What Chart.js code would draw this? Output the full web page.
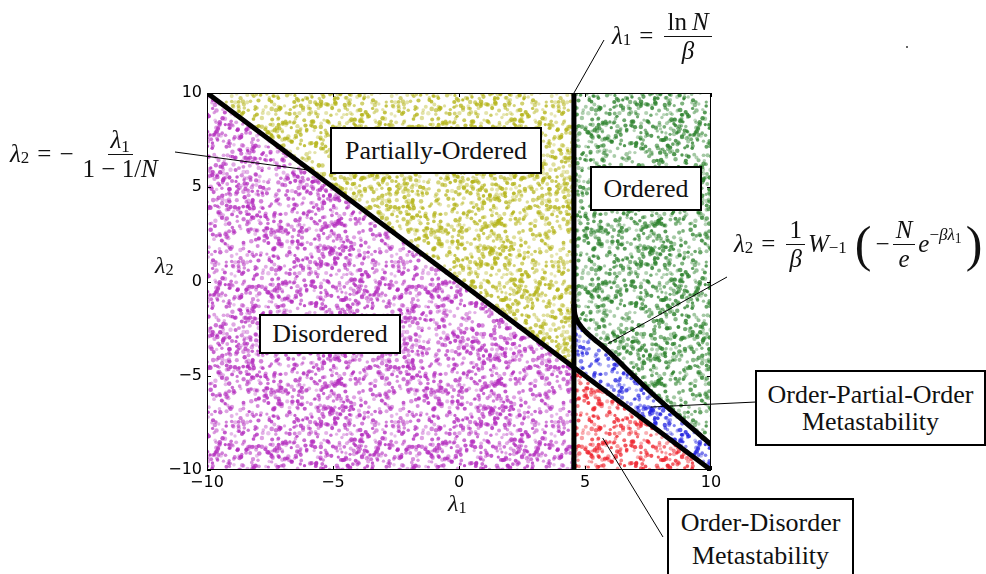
<!DOCTYPE html>
<html lang="en">
<head>
<meta charset="UTF-8">
<title>Phase diagram</title>
<script src="https://cdn.jsdelivr.net/npm/chart.js"></script>
<style>
    body { margin: 0; background: #fff; }
    #wrap { position: relative; width: 986px; height: 574px; overflow: hidden; }
    #chart { position: absolute; left: 0; top: 0; }
    .box {
        position: absolute;
        border: 2px solid #000;
        background: #fff;
        box-sizing: border-box;
        display: flex;
        align-items: center;
        justify-content: center;
        text-align: center;
        font-family: "Liberation Serif", "Times New Roman", serif;
        font-size: 26px;
        color: #111;
    }
    .math {
        position: absolute;
        display: flex;
        align-items: center;
        white-space: nowrap;
        font-family: "Liberation Serif", "DejaVu Serif", serif;
        font-size: 25px;
        color: #111;
    }
    .math sub, .math sup { font-size: 0.68em; }
    .math sub { position: relative; top: 0.25em; vertical-align: baseline; }
    .math sup { position: relative; top: -0.55em; vertical-align: baseline; }
    .frac { display: inline-flex; flex-direction: column; align-items: center; margin: 0 3px; }
    .frac .num { border-bottom: 1px solid #111; padding: 0 3px; line-height: 1.1; }
    .frac .den { line-height: 1.1; padding: 0 3px; }
    .op { margin: 0 8px; }
    .paren { font-size: 50px; line-height: 1; margin: 0 4px; font-weight: 300; }
</style>
</head>
<body>
<div id="wrap">
    <canvas id="chart" width="986" height="574"></canvas>

    <!-- axis titles -->
    <div class="math" style="left:155px; top:252px; font-size:24px;"><i>λ</i><sub>2</sub></div>
    <div class="math" style="left:448px; top:490px; font-size:24px;"><i>λ</i><sub>1</sub></div>

    <!-- region labels -->
    <div class="box" style="left:330px; top:127px; width:212px; height:47px;">Partially-Ordered</div>
    <div class="box" style="left:590px; top:166px; width:112px; height:45px;">Ordered</div>
    <div class="box" style="left:259px; top:314px; width:142px; height:40px;">Disordered</div>
    <div class="box" style="left:755px; top:370px; width:231px; height:76px; line-height:27px;">Order-Partial-Order<br>Metastability</div>
    <div class="box" style="left:667px; top:498px; width:187px; height:90px; line-height:33px; align-items:flex-start; padding-top:6px;">Order-Disorder<br>Metastability</div>

    <!-- formulas -->
    <div class="math" style="left:612px; top:8px;">
        <i>λ</i><sub>1</sub><span class="op">=</span>
        <span class="frac"><span class="num">ln&thinsp;<i>N</i></span><span class="den"><i>β</i></span></span>
    </div>
    <div class="math" style="left:10px; top:126px;">
        <i>λ</i><sub>2</sub><span class="op">=</span>−
        <span class="frac" style="margin-left:6px"><span class="num"><i>λ</i><sub>1</sub></span><span class="den">1 − 1/<i>N</i></span></span>
    </div>
    <div class="math" style="left:734px; top:216px;">
        <i>λ</i><sub>2</sub><span class="op">=</span>
        <span class="frac"><span class="num">1</span><span class="den"><i>β</i></span></span><i>W</i><sub>−1</sub>
        <span class="paren" style="margin-left:8px">(</span>−<span class="frac"><span class="num"><i>N</i></span><span class="den"><i>e</i></span></span><i>e</i><sup>−<i>βλ</i><sub style="font-size:0.8em">1</sub></sup><span class="paren">)</span>
    </div>

    <div style="position:absolute; left:906px; top:46px; width:2px; height:2px; background:#666;"></div>
</div>

<script>
    // axis setup
    const xTicks = [-10, -5, 0, 5, 10];
    const yTicks = [-10, -5, 0, 5, 10];
    const xTickLabels = ['−10', '−5', '0', '5', '10'];
    const yTickLabels = ['−10', '−5', '0', '5', '10'];

    // boundary lines
    const diagonalLine = [{x: -10, y: 10}, {x: 10, y: -10}];
    const criticalLine = [{x: 4.56, y: 10}, {x: 4.56, y: -10}];
    const spinodalCurve = [
        {x: 4.56, y: -1.2}, {x: 4.6, y: -1.75}, {x: 4.7, y: -2.1}, {x: 4.85, y: -2.4},
        {x: 5.05, y: -2.7}, {x: 5.35, y: -3.05}, {x: 5.75, y: -3.5}, {x: 6.2, y: -4.05},
        {x: 7.0, y: -5.1}, {x: 8.0, y: -6.35}, {x: 9.0, y: -7.5}, {x: 10.0, y: -8.65}
    ];

    // regions (polygon corners)
    const disorderedRegion = [{x: -10, y: 10}, {x: 4.56, y: -4.56}, {x: 4.56, y: -10}, {x: -10, y: -10}];
    const partialRegion = [{x: -10, y: 10}, {x: 4.56, y: 10}, {x: 4.56, y: -4.56}];
    const orderedRegion = [{x: 4.56, y: 10}, {x: 10, y: 10}].concat(spinodalCurve.slice().reverse());
    const partialMetaRegion = spinodalCurve.concat([{x: 10, y: -10}, {x: 4.56, y: -4.56}]);
    const disorderMetaRegion = [{x: 4.56, y: -4.56}, {x: 10, y: -10}, {x: 4.56, y: -10}];

    // leader lines: label anchor (px) -> point in data
    const leaderFrom = [[604, 40], [175, 152], [727, 277], [756, 402], [663, 537]];
    const leaderTo = [{x: 4.56, y: 10}, {x: -5.9, y: 5.9}, {x: 5.9, y: -3.3}, {x: 7.6, y: -6.66}, {x: 5.7, y: -8.3}];

    // speckle texture so the fills look like the scattered samples (style only)
    function hash(n) {
        let t = (n * 0x6D2B79F5 + 0x9E3779B9) | 0;
        t = Math.imul(t ^ (t >>> 15), t | 1);
        t ^= t + Math.imul(t ^ (t >>> 7), t | 61);
        return ((t ^ (t >>> 14)) >>> 0) / 4294967296;
    }
    function speckle(rgb) {
        const size = 160;
        const c = document.createElement('canvas');
        c.width = c.height = size;
        const g = c.getContext('2d');
        for (let i = 0; i < 1200; i++) {
            const px = hash(i * 4 + 1) * size;
            const py = hash(i * 4 + 2) * size;
            const a = 0.3 + 0.55 * hash(i * 4 + 3);
            const r = 1.6 + 0.7 * hash(i * 4 + 4);
            g.fillStyle = 'rgba(' + rgb + ',' + a.toFixed(2) + ')';
            for (const dx of [-size, 0, size]) {
                for (const dy of [-size, 0, size]) {
                    g.beginPath();
                    g.arc(px + dx, py + dy, r, 0, Math.PI * 2);
                    g.fill();
                }
            }
        }
        return g.createPattern(c, 'repeat');
    }

    function region(data, rgb) {
        return {
            data: data, fill: 'shape', backgroundColor: speckle(rgb),
            borderWidth: 0, pointRadius: 0, tension: 0, order: 2
        };
    }
    function blackLine(data, smooth) {
        return {
            data: data, fill: false, borderColor: '#000', borderWidth: 5,
            pointRadius: 0, order: 0, borderCapStyle: 'butt',
            tension: smooth ? 0.4 : 0
        };
    }

    const framePlugin = {
        id: 'frame',
        afterDraw(chart) {
            const {ctx, chartArea: a, scales} = chart;
            ctx.save();
            ctx.strokeStyle = '#000';
            ctx.lineWidth = 1;
            ctx.strokeRect(a.left + 0.5, a.top + 0.5, a.right - a.left - 1, a.bottom - a.top - 1);
            ctx.beginPath();
            xTicks.forEach(v => {
                const px = Math.round(scales.x.getPixelForValue(v)) + 0.5;
                ctx.moveTo(px, a.bottom); ctx.lineTo(px, a.bottom - 4);
                ctx.moveTo(px, a.top); ctx.lineTo(px, a.top + 4);
            });
            yTicks.forEach(v => {
                const py = Math.round(scales.y.getPixelForValue(v)) + 0.5;
                ctx.moveTo(a.left, py); ctx.lineTo(a.left + 4, py);
                ctx.moveTo(a.right, py); ctx.lineTo(a.right - 4, py);
            });
            ctx.stroke();
            // leader lines
            ctx.beginPath();
            leaderFrom.forEach((p, i) => {
                ctx.moveTo(p[0], p[1]);
                ctx.lineTo(scales.x.getPixelForValue(leaderTo[i].x), scales.y.getPixelForValue(leaderTo[i].y));
            });
            ctx.stroke();
            ctx.restore();
        }
    };

    const tickFont = {family: 'DejaVu Sans', size: 16};

    new Chart(document.getElementById('chart'), {
        type: 'line',
        data: {
            datasets: [
                region(disorderedRegion, '180,45,190'),
                region(partialRegion, '180,180,25'),
                region(orderedRegion, '45,130,45'),
                region(partialMetaRegion, '35,35,225'),
                region(disorderMetaRegion, '238,35,45'),
                blackLine(diagonalLine, false),
                blackLine(criticalLine, false),
                blackLine(spinodalCurve, true)
            ]
        },
        options: {
            responsive: false,
            animation: false,
            devicePixelRatio: 1,
            events: [],
            layout: {padding: {top: 93, right: 275, bottom: 0, left: 0}},
            plugins: {legend: {display: false}, tooltip: {enabled: false}},
            scales: {
                x: {
                    type: 'linear', min: -10, max: 10,
                    afterFit: s => { s.height = 104; },
                    afterBuildTicks: s => { s.ticks = xTicks.map(v => ({value: v})); },
                    ticks: {
                        callback: (v) => xTickLabels[xTicks.indexOf(v)],
                        font: tickFont, color: '#000', padding: 3, maxRotation: 0, autoSkip: false
                    },
                    grid: {display: false, drawTicks: false},
                    border: {display: false}
                },
                y: {
                    type: 'linear', min: -10, max: 10,
                    afterFit: s => { s.width = 207; },
                    afterBuildTicks: s => { s.ticks = yTicks.map(v => ({value: v})); },
                    ticks: {
                        callback: (v) => yTickLabels[yTicks.indexOf(v)],
                        font: tickFont, color: '#000', padding: 5, autoSkip: false
                    },
                    grid: {display: false, drawTicks: false},
                    border: {display: false}
                }
            }
        },
        plugins: [framePlugin]
    });
</script>
</body>
</html>
